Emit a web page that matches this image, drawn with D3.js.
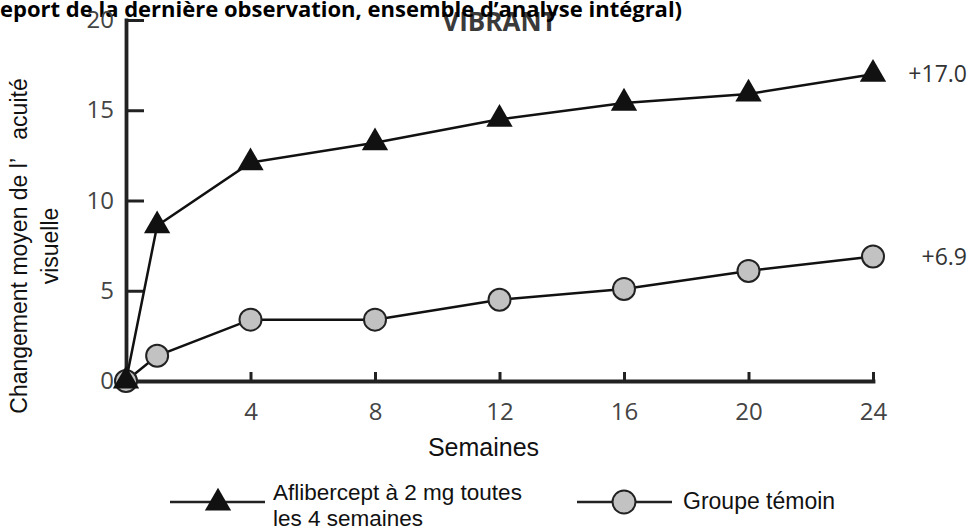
<!DOCTYPE html>
<html>
<head>
<meta charset="utf-8">
<script src="https://cdn.jsdelivr.net/npm/d3@7"></script>
<style>
  html, body { margin: 0; padding: 0; background: #fff; }
  svg { display: block; }
</style>
</head>
<body>
<svg id="chart" width="969" height="531"></svg>
<script>
// ---- data ----
const weeks = [0, 1, 4, 8, 12, 16, 20, 24];
const aflibercept = [0, 8.6, 12.1, 13.2, 14.5, 15.4, 15.9, 17.0];
const controlGroup = [0, 1.4, 3.4, 3.4, 4.5, 5.1, 6.1, 6.9];
const xTicks = [4, 8, 12, 16, 20, 24];
const yTicks = [0, 5, 10, 15, 20];
const seriesNames = ["Aflibercept à 2 mg toutes", "les 4 semaines"];
const controlName = "Groupe témoin";
const titleText = "eport de la dernière observation, ensemble d\u2019analyse intégral)";
const studyName = "VIBRANT";
const yLabelLines = ["Changement moyen de l\u2019   acuité", "visuelle"];
const xLabel = "Semaines";

const svg = d3.select("#chart");
const x = d3.scaleLinear().domain([0, 24]).range([126, 873]);
const y = d3.scaleLinear().domain([0, 20]).range([381, 20]);

const tickFont = "'Open Sans', sans-serif";
const textFont = "'Liberation Sans', Arial, sans-serif";

// study name (under title)
svg.append("text")
  .attr("x", (x(0) + x(24)) / 2).attr("y", 31)
  .attr("text-anchor", "middle")
  .style("font-family", tickFont).style("font-weight", "bold")
  .style("font-size", "26px").style("fill", "#3a3a3a")
  .text(studyName);

// title (clipped at left in reference)
svg.append("text")
  .attr("x", 0).attr("y", 17)
  .style("font-family", tickFont).style("font-weight", "bold")
  .style("font-size", "22px").style("fill", "#000")
  .text(titleText);

// axes
const yAxis = svg.append("g")
  .attr("transform", `translate(${x(0)},0)`)
  .call(d3.axisLeft(y).tickValues(yTicks).tickSizeInner(-18).tickSizeOuter(0)
        .tickPadding(12).tickFormat(d3.format("d")));
const xAxis = svg.append("g")
  .attr("transform", `translate(0,${y(0)})`)
  .call(d3.axisBottom(x).tickValues(xTicks).tickSizeInner(-9).tickSizeOuter(0)
        .tickPadding(22).tickFormat(d3.format("d")));

[yAxis, xAxis].forEach(a => {
  a.select(".domain").attr("stroke", "#222").attr("stroke-width", 3.8)
    .attr("stroke-linecap", "square");
  a.selectAll(".tick line").attr("stroke", "#222").attr("stroke-width", 3);
  a.selectAll(".tick text")
    .style("font-family", tickFont).style("font-size", "24px")
    .style("fill", "#444");
});
yAxis.selectAll(".tick").filter(d => d === 0).select("line").remove();

// axis labels
svg.append("text")
  .attr("x", (x(0) + x(24)) / 2 - 16).attr("y", 456)
  .attr("text-anchor", "middle")
  .style("font-family", textFont).style("font-size", "25px").style("fill", "#111")
  .text(xLabel);

const yl = svg.append("g").attr("transform", "translate(0,246) rotate(-90)");
yl.selectAll("text").data(yLabelLines).join("text")
  .attr("x", 0).attr("y", (d, i) => 27 + i * 31)
  .attr("text-anchor", "middle")
  .style("font-family", textFont).style("font-size", "23px").style("fill", "#111")
  .style("white-space", "pre")
  .text(d => d);

// series
const line = d3.line().x(d => x(d.w)).y(d => y(d.v));
const afl = weeks.map((w, i) => ({ w, v: aflibercept[i] }));
const ctl = weeks.map((w, i) => ({ w, v: controlGroup[i] }));

const circleStyle = s => s.attr("fill", "#c2c2c2").attr("stroke", "#222").attr("stroke-width", 2);
const tri = d3.symbol(d3.symbolTriangle, 300);

svg.append("path").datum(ctl).attr("d", line)
  .attr("fill", "none").attr("stroke", "#111").attr("stroke-width", 2.5);
svg.append("g").selectAll("circle").data(ctl).join("circle")
  .attr("cx", d => x(d.w)).attr("cy", d => y(d.v)).attr("r", 11)
  .call(circleStyle);

svg.append("path").datum(afl).attr("d", line)
  .attr("fill", "none").attr("stroke", "#111").attr("stroke-width", 2.5);
svg.append("g").selectAll("path").data(afl).join("path")
  .attr("d", tri)
  .attr("transform", d => `translate(${x(d.w)},${y(d.v)})`)
  .attr("fill", "#111");

// end labels
const fmt = v => "+" + d3.format(".1f")(v);
[[aflibercept, weeks], [controlGroup, weeks]].forEach(([vals, ws]) => {
  const last = vals.length - 1;
  svg.append("text")
    .attr("x", x(ws[last]) + 94).attr("y", y(vals[last]))
    .attr("dy", "0.35em").attr("text-anchor", "end")
    .style("font-family", tickFont).style("font-size", "23px").style("fill", "#333")
    .text(fmt(vals[last]));
});

// legend
const lg = svg.append("g");
lg.append("line").attr("x1", 170).attr("x2", 265).attr("y1", 502).attr("y2", 502)
  .attr("stroke", "#222").attr("stroke-width", 2.5);
lg.append("path").attr("d", tri).attr("transform", "translate(218,503)").attr("fill", "#111");
lg.selectAll("text.s1").data(seriesNames).join("text").attr("class", "s1")
  .attr("x", 273).attr("y", (d, i) => 500 + i * 26)
  .style("font-family", textFont).style("font-size", "22.5px").style("fill", "#111")
  .text(d => d);

lg.append("line").attr("x1", 577).attr("x2", 672).attr("y1", 502).attr("y2", 502)
  .attr("stroke", "#222").attr("stroke-width", 2.5);
lg.append("circle").attr("cx", 624).attr("cy", 502).attr("r", 11.5).call(circleStyle);
lg.append("text").attr("x", 683).attr("y", 509)
  .style("font-family", textFont).style("font-size", "23px").style("fill", "#111")
  .text(controlName);
</script>
</body>
</html>
